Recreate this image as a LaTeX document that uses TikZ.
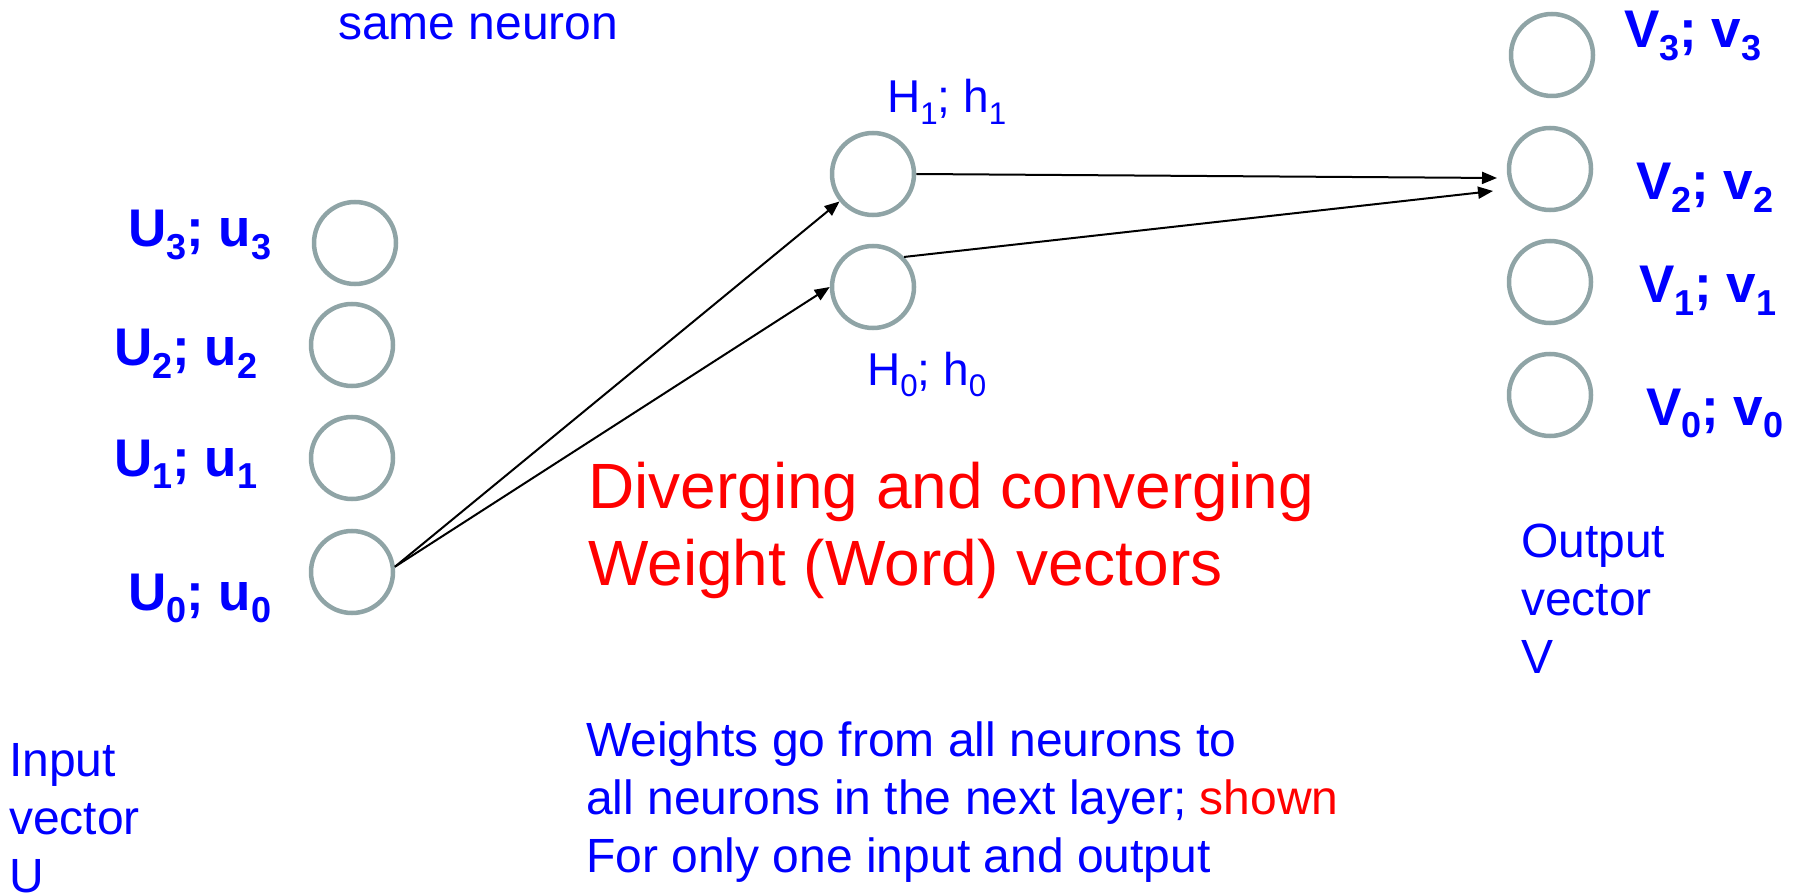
\documentclass[tikz,border=0pt]{standalone}
\usepackage{fontspec}
\setmainfont{Liberation Sans}
\usepackage{graphicx}
\usepackage{xcolor}
\usetikzlibrary{arrows.meta,calc,positioning}
\definecolor{NeuronGray}{RGB}{143,164,166}
\definecolor{TextBlue}{RGB}{0,0,255}
\definecolor{TextRed}{RGB}{255,0,0}
\newcommand{\lowidx}[1]{\raisebox{-0.24em}{\scalebox{0.68}{#1}}}

\begin{document}
\begin{tikzpicture}[x=1pt, y=-1pt,
		neuron/.style={circle, draw=NeuronGray, line width=4.5pt, minimum size=82pt, inner sep=0pt},
		vlabel/.style={anchor=base west, inner sep=0pt, text=TextBlue, font=\fontsize{53}{64}\selectfont\bfseries},
		hlabel/.style={anchor=base west, inner sep=0pt, text=TextBlue, font=\fontsize{46}{55}\selectfont},
		note/.style={anchor=base west, inner sep=0pt, align=left, text=TextBlue, font=\fontsize{48}{58}\selectfont},
		weight/.style={line width=2pt, -{Triangle[length=15pt,width=12pt]}}]
		\useasboundingbox (0,0) rectangle (1797,893);
		% input layer
		\node[neuron] (U3) at (355,243) {};
		\node[neuron] (U2) at (352,345) {};
		\node[neuron] (U1) at (352,458) {};
		\node[neuron] (U0) at (352,572) {};
		% hidden layer
		\node[neuron] (H1) at (873,174) {};
		\node[neuron] (H0) at (873,287) {};
		% output layer
		\node[neuron] (V3) at (1552,55) {};
		\node[neuron] (V2) at (1550,169) {};
		\node[neuron] (V1) at (1550,282) {};
		\node[neuron] (V0) at (1550,395) {};
		\coordinate (V2a) at (1497,178);
		\coordinate (V2b) at (1493,191);
		% weights
		\draw[weight] (U0.7) -- (H1);
		\draw[weight] (U0.7) -- (H0.west);
		\draw[weight] (H1.east) -- (V2a);
		\draw[weight] (H0.44) -- (V2b);
		% labels
		\node[vlabel] (U3l) at (128,247) {U\lowidx{3}; u\lowidx{3}};
		\node[vlabel] (U2l) at (114,366) {U\lowidx{2}; u\lowidx{2}};
		\node[vlabel] (U1l) at (114,476) {U\lowidx{1}; u\lowidx{1}};
		\node[vlabel] (U0l) at (128,610) {U\lowidx{0}; u\lowidx{0}};
		\node[hlabel] (H1l) at (887,113) {H\lowidx{1}; h\lowidx{1}};
		\node[hlabel] (H0l) at (867,385) {H\lowidx{0}; h\lowidx{0}};
		\node[vlabel] (V3l) at (1624,48) {V\lowidx{3}; v\lowidx{3}};
		\node[vlabel] (V2l) at (1636,200) {V\lowidx{2}; v\lowidx{2}};
		\node[vlabel] (V1l) at (1639,303) {V\lowidx{1}; v\lowidx{1}};
		\node[vlabel] (V0l) at (1646,425) {V\lowidx{0}; v\lowidx{0}};
		% texts (base = last line)
		\node[note] (same) at (338,40) {same neuron};
		\node[note] (inlbl) at (9,892) {Input\\vector\\U};
		\node[note] (outlbl) at (1521,673) {Output\\vector\\V};
		\node[note, text=TextRed, font=\fontsize{64}{77}\selectfont] (title) at (588,585) {Diverging and converging\\Weight (Word) vectors};
		\node[note] (rule) at (586,872) {Weights go from all neurons to\\all neurons in the next layer; \textcolor{TextRed}{shown}\\For only one input and output};
	\end{tikzpicture}
\end{document}
